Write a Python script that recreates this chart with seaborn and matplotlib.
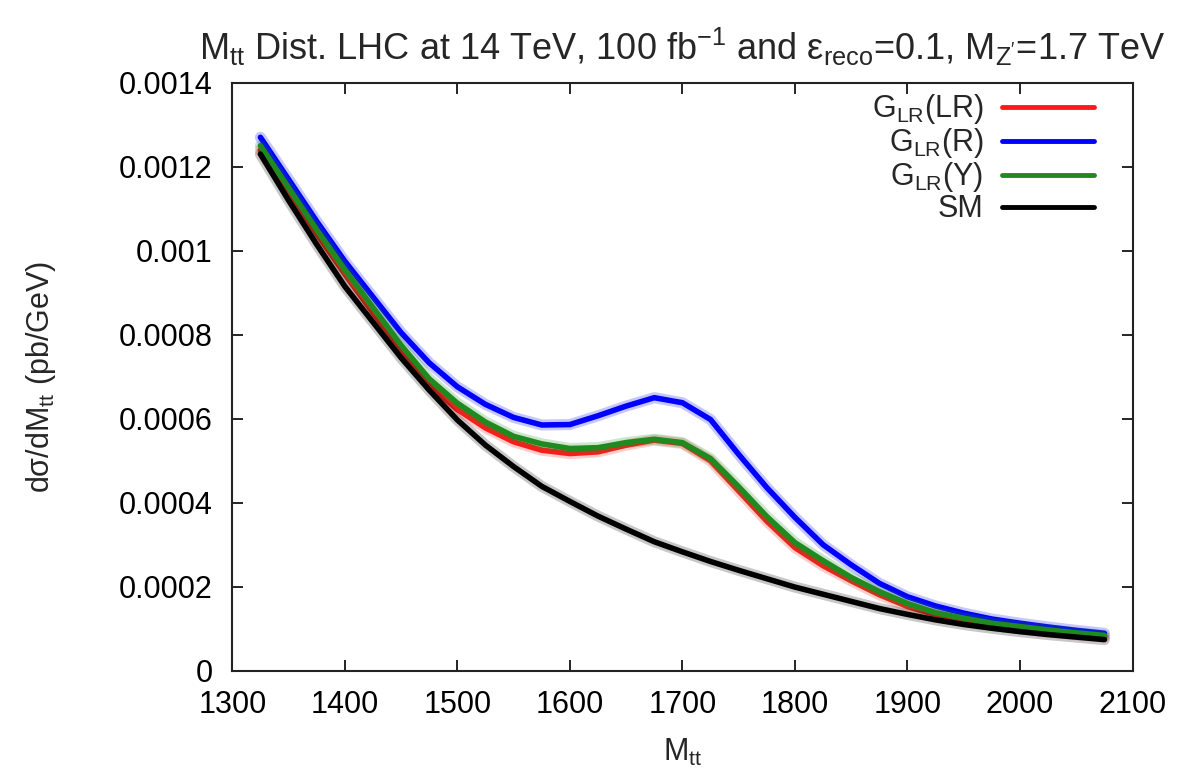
#!/usr/bin/env python3
import numpy as np
import pandas as pd
import seaborn as sns
import matplotlib
matplotlib.use('Agg')
import matplotlib.pyplot as plt
from matplotlib.lines import Line2D
from matplotlib.ticker import FuncFormatter, MultipleLocator

# M_tt bins (GeV)
mtt = [1325, 1350, 1375, 1400, 1425, 1450, 1475, 1500, 1525, 1550, 1575,
       1600, 1625, 1650, 1675, 1700, 1725, 1750, 1775, 1800, 1825, 1850,
       1875, 1900, 1925, 1950, 1975, 2000, 2025, 2050, 2075]

# dsigma/dM_tt in pb/GeV
glr_lr = [0.00124, 0.00114, 0.00104, 0.000945, 0.000852, 0.000762, 0.00068,
          0.000622, 0.000578, 0.000545, 0.000525, 0.000517, 0.000521, 0.000537,
          0.000549, 0.000541, 0.0005, 0.000428, 0.000356, 0.000293, 0.00025,
          0.000214, 0.000181, 0.000153, 0.000133, 0.00012, 0.000108, 0.0001,
          0.000092, 0.000086, 0.00008]
glr_r = [0.00127, 0.00117, 0.00107, 0.000975, 0.00089, 0.000805, 0.000733,
         0.000676, 0.000634, 0.000603, 0.000585, 0.000586, 0.000607, 0.00063,
         0.00065, 0.000638, 0.000598, 0.000515, 0.000436, 0.000365, 0.0003,
         0.000252, 0.000208, 0.000176, 0.000154, 0.000137, 0.000123, 0.000113,
         0.000104, 0.000096, 0.000089]
glr_y = [0.00125, 0.00115, 0.00105, 0.000955, 0.000865, 0.000775, 0.000695,
         0.000637, 0.000592, 0.000558, 0.00054, 0.000529, 0.000531, 0.000543,
         0.000551, 0.000543, 0.000505, 0.000438, 0.000367, 0.000305, 0.000262,
         0.000222, 0.000188, 0.00016, 0.000138, 0.000125, 0.000113, 0.000105,
         0.000097, 0.00009, 0.000084]
sm = [0.00123, 0.00112, 0.001015, 0.000915, 0.00083, 0.000745, 0.000668,
      0.000597, 0.000537, 0.000486, 0.000439, 0.000403, 0.000368, 0.000337,
      0.000307, 0.000283, 0.00026, 0.000239, 0.000219, 0.000199, 0.000182,
      0.000165, 0.000148, 0.000134, 0.000121, 0.00011, 0.000101, 0.000093,
      0.000086, 0.00008, 0.000074]

labels = ['G$_{\\mathregular{LR}}$(LR)', 'G$_{\\mathregular{LR}}$(R)',
          'G$_{\\mathregular{LR}}$(Y)', 'SM']
series = [glr_lr, glr_r, glr_y, sm]
colors = ['#ff1a1a', '#0000ff', '#1f8a1f', '#000000']
draw_order = [3, 0, 1, 2]

sns.set_style('ticks')
plt.rcParams['font.family'] = ['Liberation Sans', 'DejaVu Sans']
plt.rcParams['mathtext.fontset'] = 'custom'
plt.rcParams['mathtext.rm'] = 'Liberation Sans'
plt.rcParams['mathtext.it'] = 'Liberation Sans'

fig = plt.figure(figsize=(11.79, 7.75), dpi=100)
ax = fig.add_axes([0.197, 0.1346, 0.7636, 0.7587])

for i in draw_order:
    df = pd.DataFrame({'Mtt': mtt, 'val': series[i]})
    # soft halo, mimics the dense error-bar markers of the original
    sns.lineplot(data=df, x='Mtt', y='val', color=colors[i], lw=8, alpha=0.22,
                 ax=ax, zorder=2 + i)
    sns.lineplot(data=df, x='Mtt', y='val', color=colors[i], lw=4,
                 ax=ax, zorder=3 + i)

ax.set_xlim(1300, 2100)
ax.set_ylim(0, 0.0014)
ax.xaxis.set_major_locator(MultipleLocator(100))
ax.yaxis.set_major_locator(MultipleLocator(0.0002))
ax.yaxis.set_major_formatter(FuncFormatter(lambda v, p: '%g' % round(v, 6)))
ax.tick_params(direction='in', length=8, width=1.2, top=True, right=True,
               labelsize=22, colors='black')
ax.tick_params(axis='x', pad=14)
ax.tick_params(axis='y', pad=14)
for s in ax.spines.values():
    s.set_linewidth(1.5)
    s.set_color('#222222')

ax.set_xlabel('M$_{\\mathregular{tt}}$', fontsize=22, labelpad=12)
ax.set_ylabel('d\u03c3/dM$_{\\mathregular{tt}}$ (pb/GeV)', fontsize=22, labelpad=44)
ax.set_title('M$_{\\mathregular{tt}}$ Dist. LHC at 14 TeV, 100 fb$^{\\mathregular{-1}}$ '
             'and \u03b5$_{\\mathregular{reco}}$=0.1, M$_{\\mathregular{Z\'}}$=1.7 TeV',
             fontsize=26, pad=16)

handles = [Line2D([0], [0], color=c, lw=3.5) for c in colors]
ax.legend(handles, labels, loc='upper right', frameon=False, markerfirst=False,
          fontsize=22, handlelength=3.0, labelspacing=0.0, handletextpad=0.6,
          borderaxespad=0.2, bbox_to_anchor=(0.977, 1.015))

fig.savefig('out.png', dpi=100)
